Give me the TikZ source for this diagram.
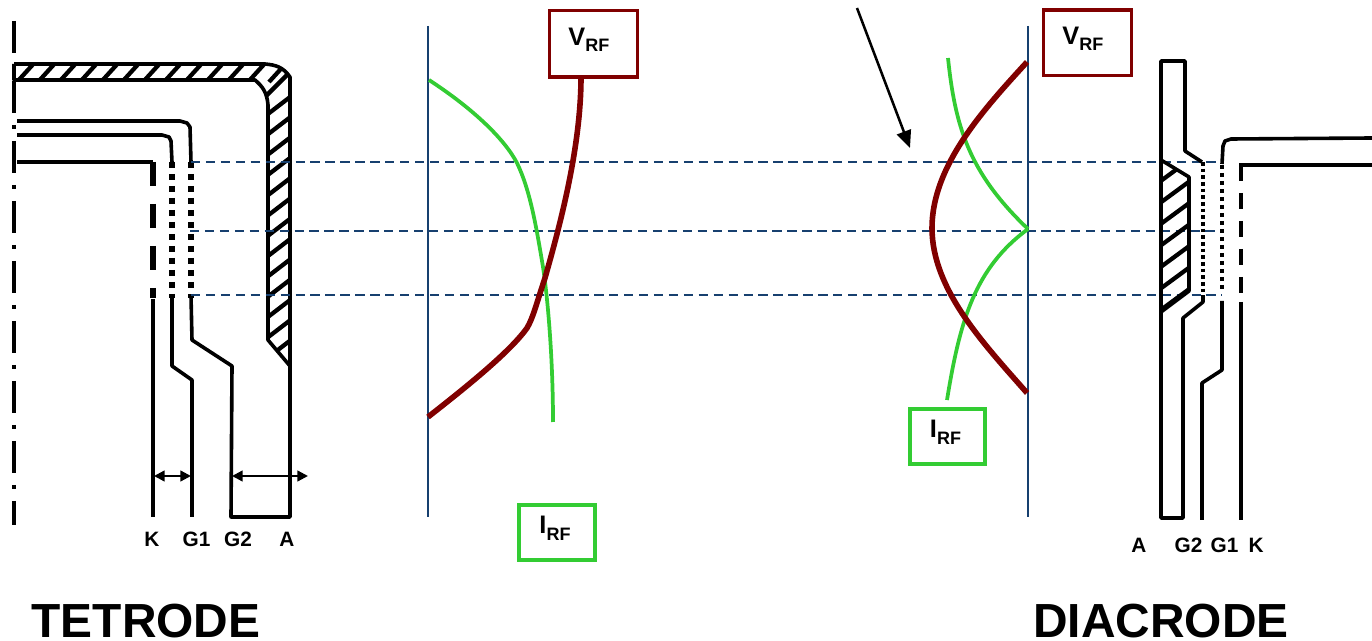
\documentclass[tikz,border=0pt]{standalone}
\usepackage{fontspec}
\setmainfont{Liberation Sans}
\usetikzlibrary{arrows.meta}
\definecolor{dkred}{HTML}{800000}
\definecolor{grn}{HTML}{33CC33}
\definecolor{dkblue}{HTML}{17406F}
\tikzset{
 elec/.style={line width=2.7pt,black,line join=round},
 axis/.style={line width=1.9pt,dkblue},
 guide/.style={line width=1.1pt,dkblue,dash pattern=on 7pt off 4.2pt},
 vcurve/.style={line width=4.2pt,dkred},
 icurve/.style={line width=2.8pt,grn},
 hatchline/.style={line width=3.2pt,black},
 rfbox/.style={line width=2.6pt,fill=white,inner sep=0pt,outer sep=0pt,font=\bfseries\fontsize{19}{19}\selectfont,text height=13.5pt,text depth=11.25pt,anchor=center},
 elabel/.style={font=\bfseries\fontsize{15.6}{15.6}\selectfont,inner sep=0pt,anchor=base},
 title/.style={font=\bfseries\fontsize{35.9}{35.9}\selectfont,inner sep=0pt,anchor=base},
 dim/.style={line width=1.7pt,{Triangle[length=8pt,width=8pt]}-{Triangle[length=8pt,width=8pt]}},
}
\newcommand{\rflab}[1]{#1\raisebox{-5pt}{\fontsize{13.5}{13.5}\selectfont RF}}
\begin{document}
\begin{tikzpicture}[x=0.75pt,y=-0.75pt]
\useasboundingbox (0,0) rectangle (1372,641);
% centre line
\draw[line width=3pt,dash pattern=on 24pt off 9pt on 3pt off 9pt] (14,21) -- (14,525);
% tetrode anode wall
\begin{scope}
 \clip (14,64) -- (265,64) .. controls (276,65) and (283,67) .. (290,77) -- (290,366) -- (268,340) -- (268,105) .. controls (267,92) and (262,86) .. (255,80) -- (14,80) -- cycle;
 \fill[white] (10,60) rectangle (295,370);
 \foreach \k in {0,...,13} \draw[hatchline] ({17+21*\k},82) -- ({17+21*\k+20},60);
 \foreach \k in {0,...,12} \draw[hatchline] (264,{117+20.3*\k}) -- (294,{117+20.3*\k-23});
 \draw[hatchline] (262,100) -- (290,72);
\end{scope}
\draw[elec] (14,64) -- (265,64) .. controls (276,65) and (283,67) .. (290,77) -- (290,517) -- (231,517) -- (232,366) -- (192,340) -- (191,296);
\draw[elec] (14,64) -- (14,80) -- (255,80) .. controls (262,86) and (267,92) .. (268,105) -- (268,340) -- (290,366);
% tetrode electrodes
\draw[elec] (17,121) -- (180,121) -- (187,123) -- (190,127) -- (191,162);
\draw[elec] (17,135) -- (162,135) -- (169,137) -- (171,141) -- (172,162);
\draw[elec,line cap=butt] (17,162) -- (153,162);
\draw[line width=4.4pt,dash pattern=on 4.7pt off 4.3pt] (172,162) -- (172,298);
\draw[line width=4.4pt,dash pattern=on 4.7pt off 4.3pt] (191,162) -- (191,298);
\draw[line width=4pt,dash pattern=on 18pt off 13.5pt] (153,162) -- (153,298);
\draw[elec] (153,299) -- (153,517);
\draw[elec] (172,298) -- (172,366) -- (192,380) -- (192,517);
% guides
\coordinate (g1a) at (191,162); \coordinate (g1b) at (1222,162);
\coordinate (g2a) at (190,231); \coordinate (g2b) at (1222,231);
\coordinate (g3a) at (191,295); \coordinate (g3b) at (1222,295);
\draw[guide] (g1a) -- (g1b);
\draw[guide] (g2a) -- (g2b);
\draw[guide] (g3a) -- (g3b);
% dimension arrows
\coordinate (dk) at (154,476); \coordinate (dg1) at (191,476);
\coordinate (dg2) at (232,476); \coordinate (da) at (308,476);
\draw[dim] (dk) -- (dg1);
\draw[dim] (dg2) -- (da);
% labels
\node[elabel] (lk) at (152,547) {K};
\node[elabel] (lg1) at (196.5,547) {G1};
\node[elabel] (lg2) at (238,547) {G2};
\node[elabel] (la) at (287,547) {A};
\node[elabel] (ra) at (1139,553) {A};
\node[elabel] (rg2) at (1188.5,553) {G2};
\node[elabel] (rg1) at (1224.5,553) {G1};
\node[elabel] (rk) at (1256,553) {K};
\node[title] (tet) at (146,637.5) {TETRODE};
\node[title] (dia) at (1161,637.5) {DIACRODE};
% axes
\draw[axis] (428,26) -- (428,517);
\draw[axis] (1028,26) -- (1028,517);
% curves
\node[rfbox,draw=dkred,minimum width=66pt,minimum height=50pt] (v1) at (593.5,43.7) {\rflab{V}\hspace*{7pt}};
\node[rfbox,draw=dkred,minimum width=66pt,minimum height=49pt] (v2) at (1087.5,42.7) {\rflab{V}\hspace*{7pt}};
\node[rfbox,draw=grn,minimum width=57pt,minimum height=41.2pt] (i1) at (557,532.5) {\rflab{I}\hspace*{3pt}};
\node[rfbox,draw=grn,minimum width=56.3pt,minimum height=41.2pt] (i2) at (947.5,436.5) {\rflab{I}\hspace*{3pt}};
\draw[icurve] (429,80) .. controls (475,110) and (505,140) .. (517,163) .. controls (530,190) and (536,225) .. (543,267) .. controls (548,300) and (553,360) .. (553,422);
\draw[vcurve] (428,417) .. controls (465,388) and (510,352) .. (527,328) .. controls (533,318) and (536,305) .. (545,278) .. controls (558,232) and (581,150) .. (v1.south -| 581,79);
\draw[icurve] (948,58) .. controls (955,125) and (968,172) .. (1028,229);
\draw[icurve] (1028,229) .. controls (975,268) and (960,320) .. (947,400);
\draw[vcurve] (1027,62) .. controls (985,108) and (932,165) .. (932,228) .. controls (932,290) and (985,345) .. (1027,393);
\coordinate (arA) at (857,8); \coordinate (arB) at (910,148);
\draw[line width=1.9pt,-{Triangle[length=13pt,width=11pt]}] (arA) -- (arB);
% diacrode
\begin{scope}
 \clip (1161,160) -- (1189,177) -- (1189,291) -- (1161,312) -- cycle;
 \foreach \k in {0,...,6} \draw[hatchline] (1158,{183+21.5*\k}) -- (1192,{183+21.5*\k-25});
\end{scope}
\draw[elec] (1161,160) -- (1189,177) -- (1189,291) -- (1161,312);
\draw[elec] (1203,296) -- (1203,302) -- (1183,318) -- (1183,518) -- (1161,518) -- (1161,61) -- (1185,61) -- (1185,151) -- (1202,162);
\draw[line width=2.8pt,dash pattern=on 2.8pt off 2.2pt] (1203,162) -- (1203,296);
\draw[elec] (1222,164) -- (1223,146) -- (1225,141) -- (1231,139) -- (1372,138);
\draw[line width=3pt,dash pattern=on 3pt off 3pt] (1222,165) -- (1222,292);
\draw[elec] (1222,301) -- (1222,370) -- (1202,383) -- (1202,520);
\draw[elec] (1372,165) -- (1239,165);
\draw[line width=3.6pt,dash pattern=on 12pt off 9pt] (1241,165) -- (1241,295);
\draw[elec] (1241,302) -- (1241,520);
\end{tikzpicture}
\end{document}
